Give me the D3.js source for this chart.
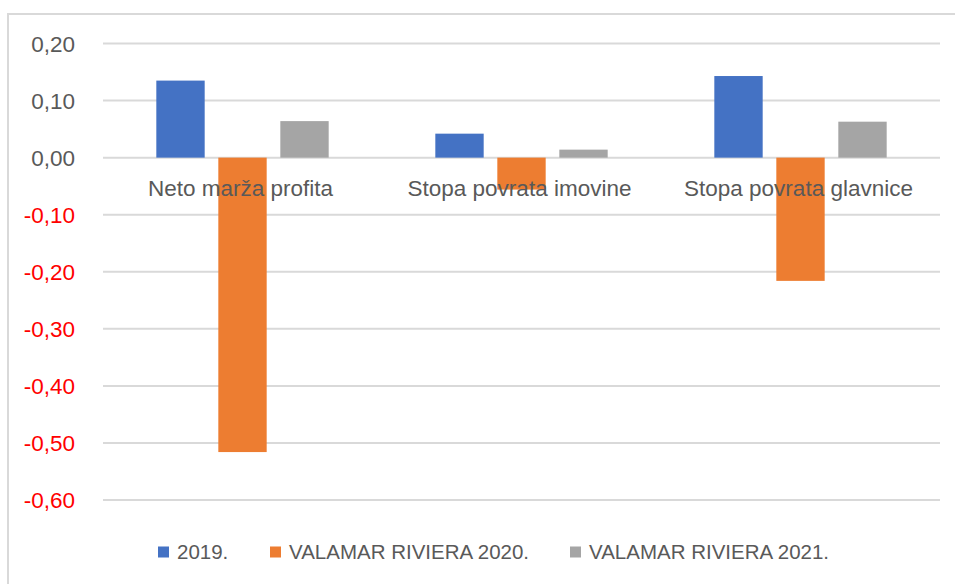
<!DOCTYPE html>
<html>
<head>
<meta charset="utf-8">
<script src="https://cdn.jsdelivr.net/npm/d3@7"></script>
<style>
  html, body { margin: 0; padding: 0; background: #fff; }
  svg { display: block; }
  text { font-family: "Liberation Sans", Arial, sans-serif; }
</style>
</head>
<body>
<svg id="chart" width="955" height="584"></svg>
<script>
const categories = ["Neto marža profita", "Stopa povrata imovine", "Stopa povrata glavnice"];
const seriesNames = ["2019.", "VALAMAR RIVIERA 2020.", "VALAMAR RIVIERA 2021."];
const values2019 = [0.135, 0.042, 0.143];
const values2020 = [-0.516, -0.056, -0.216];
const values2021 = [0.064, 0.014, 0.063];
const yTicks = [0.2, 0.1, 0.0, -0.1, -0.2, -0.3, -0.4, -0.5, -0.6];
const colors = ["#4472C4", "#ED7D31", "#A5A5A5"];

const seriesValues = [values2019, values2020, values2021];
const svg = d3.select("#chart");

// frame
svg.append("path")
  .attr("d", "M8,584 L8,14 L955,14")
  .attr("fill", "none").attr("stroke", "#d9d9d9").attr("stroke-width", 2);

const plotLeft = 103, plotRight = 940;
const y = d3.scaleLinear().domain([-0.6, 0.2]).range([500, 43.5]);
const x0 = d3.scaleBand().domain(categories).range([plotLeft, plotRight]).padding(0);
const x1 = d3.scaleBand().domain(seriesNames).range([0, x0.bandwidth()])
  .paddingInner(0.22).paddingOuter(0.86);

const loc = d3.formatLocale({decimal: ",", thousands: ".", grouping: [3], currency: ["", "€"], minus: "-"});
const fmt = loc.format(".2f");

// gridlines
svg.append("g").selectAll("line").data(yTicks).join("line")
  .attr("x1", plotLeft).attr("x2", plotRight)
  .attr("y1", d => y(d)).attr("y2", d => y(d))
  .attr("stroke", "#d9d9d9").attr("stroke-width", 2);

// y axis labels
svg.append("g").selectAll("text").data(yTicks).join("text")
  .attr("x", 75).attr("y", d => y(d))
  .attr("dy", "0.36em")
  .attr("text-anchor", "end")
  .attr("font-size", 22.5)
  .attr("fill", d => d < 0 ? "#FF0000" : "#595959")
  .text(d => fmt(d));

// bars
const barData = [];
categories.forEach((c, ci) => {
  seriesNames.forEach((s, si) => {
    barData.push({cat: c, series: s, value: seriesValues[si][ci], color: colors[si]});
  });
});
svg.append("g").selectAll("rect").data(barData).join("rect")
  .attr("x", d => x0(d.cat) + x1(d.series))
  .attr("width", x1.bandwidth())
  .attr("y", d => Math.min(y(d.value), y(0)))
  .attr("height", d => Math.abs(y(d.value) - y(0)))
  .attr("fill", d => d.color);

// category labels
svg.append("g").selectAll("text").data(categories).join("text")
  .attr("x", d => x0(d) + x0.bandwidth() / 2 - 2)
  .attr("y", 196)
  .attr("text-anchor", "middle")
  .attr("font-size", 22.5)
  .attr("fill", "#595959")
  .text(d => d);

// legend
const legendX = [158, 270, 570];
const lg = svg.append("g").selectAll("g").data(seriesNames).join("g")
  .attr("transform", (d, i) => `translate(${legendX[i]},552)`);
lg.append("rect").attr("x", 0).attr("y", -5.5).attr("width", 11).attr("height", 11)
  .attr("fill", (d, i) => colors[i]);
lg.append("text").attr("x", 19).attr("y", 0).attr("dy", "0.36em")
  .attr("font-size", 20.5).attr("fill", "#595959").text(d => d);
</script>
</body>
</html>
